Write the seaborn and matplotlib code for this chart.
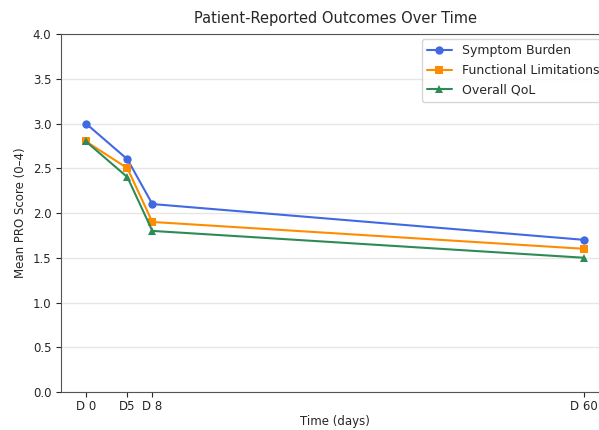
import numpy as np
import pandas as pd
import seaborn as sns
import matplotlib.pyplot as plt

days = [0, 5, 8, 60]
day_labels = ["D 0", "D5", "D 8", "D 60"]
symptom_burden = [3.0, 2.6, 2.1, 1.7]
functional_limitations = [2.8, 2.5, 1.9, 1.6]
overall_qol = [2.8, 2.4, 1.8, 1.5]

series = {
    "Symptom Burden": symptom_burden,
    "Functional Limitations": functional_limitations,
    "Overall QoL": overall_qol,
}
df = pd.concat(
    [pd.DataFrame({"day": days, "score": vals, "measure": name}) for name, vals in series.items()],
    ignore_index=True,
)

sns.set_style("ticks")
plt.rcParams["font.family"] = ["DejaVu Sans"]

fig = plt.figure(figsize=(5.99, 4.30), dpi=100)
ax = fig.add_axes([61 / 599, 38 / 430, 548 / 599, 358 / 430])

palette = {"Symptom Burden": "#4169E1", "Functional Limitations": "#FF8C00", "Overall QoL": "#2E8B57"}
markers = {"Symptom Burden": "o", "Functional Limitations": "s", "Overall QoL": "^"}
sns.lineplot(data=df, x="day", y="score", hue="measure", style="measure",
             palette=palette, markers=markers, dashes=False, markersize=6,
             linewidth=1.5, markeredgewidth=0, ax=ax)

ax.set_xticks(days)
ax.set_xticklabels(day_labels, fontsize=8.5)
ax.tick_params(axis="x", pad=2)
ax.set_ylim(0, 4)
ax.set_yticks(np.arange(0, 4.01, 0.5))
ax.tick_params(axis="y", labelsize=8.5)
ax.yaxis.grid(True, color="#e6e6e6", linewidth=1)
ax.set_axisbelow(True)
for s in ax.spines.values():
    s.set_color("#555555")
ax.set_xlabel("Time (days)", fontsize=8.5, labelpad=2)
ax.set_ylabel("Mean PRO Score (0–4)", fontsize=8.5)
ax.set_title("Patient-Reported Outcomes Over Time", fontsize=10.5, pad=8)
ax.legend(title=None, loc="upper right", bbox_to_anchor=(1.0, 1.0),
          fontsize=9, labelspacing=0.55, borderaxespad=0.4, frameon=True)

fig.savefig("out.png", dpi=100)
